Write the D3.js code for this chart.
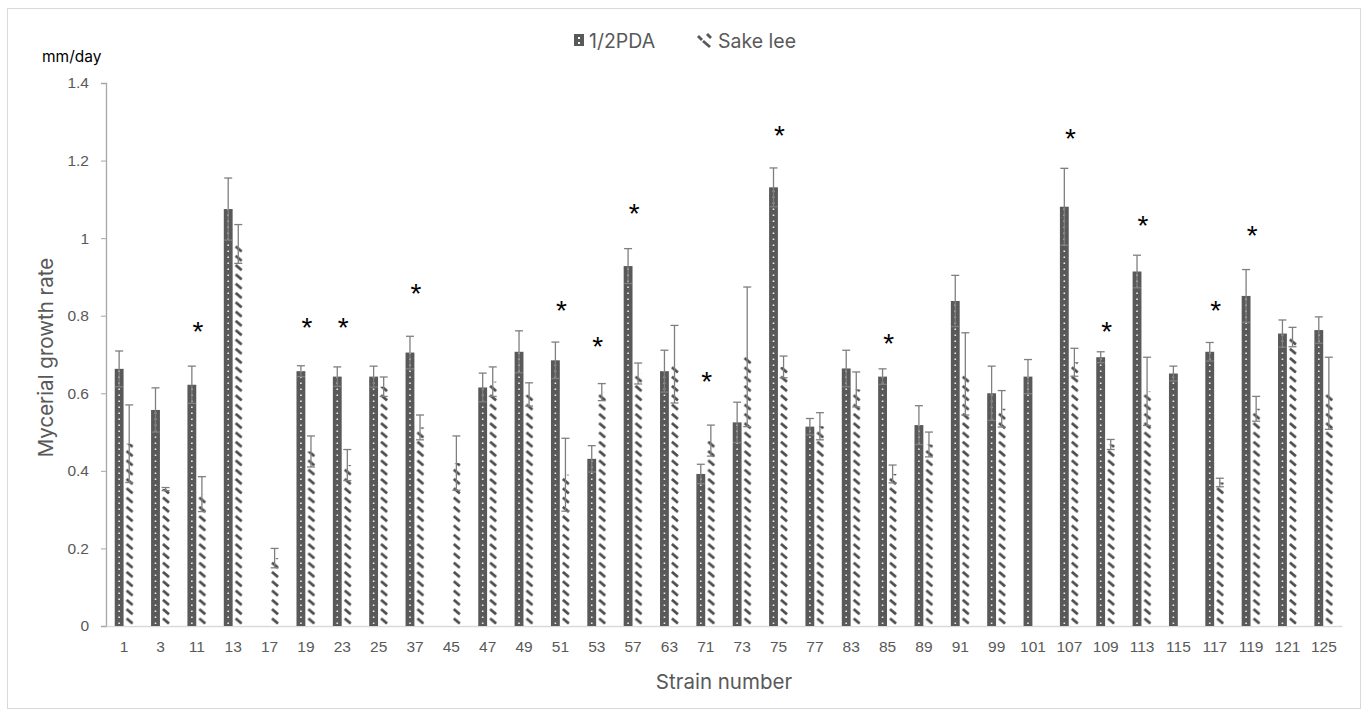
<!DOCTYPE html>
<html>
<head>
<meta charset="utf-8">
<script src="https://cdn.jsdelivr.net/npm/d3@7"></script>
<style>
  body { margin: 0; background: #fff; }
  svg { font-family: Inter, "Noto Sans", sans-serif; }
</style>
</head>
<body>
<svg id="chart"></svg>
<script>
// Data
const strains = ["1","3","11","13","17","19","23","25","37","45","47","49","51","53","57","63","71","73","75","77","83","85","89","91","99","101","107","109","113","115","117","119","121","125"];
const pda = [0.663,0.557,0.622,1.075,0,0.657,0.643,0.643,0.705,0,0.615,0.707,0.685,0.431,0.928,0.657,0.392,0.525,1.131,0.514,0.664,0.643,0.518,0.838,0.6,0.643,1.081,0.693,0.914,0.651,0.707,0.851,0.754,0.763];
const pdaErr = [0.046,0.057,0.048,0.08,0,0.014,0.025,0.027,0.042,0,0.037,0.054,0.047,0.034,0.045,0.054,0.025,0.052,0.05,0.021,0.047,0.02,0.05,0.066,0.07,0.044,0.099,0.014,0.042,0.019,0.024,0.068,0.035,0.034];
const sake = [0.47,0.353,0.34,0.985,0.175,0.45,0.415,0.617,0.512,0.42,0.63,0.597,0.39,0.603,0.651,0.675,0.478,0.694,0.668,0.515,0.61,0.392,0.468,0.65,0.56,0,0.68,0.468,0.605,0,0.37,0.56,0.745,0.6];
const sakeErr = [0.1,0.004,0.045,0.05,0.025,0.04,0.04,0.025,0.032,0.07,0.038,0.03,0.094,0.022,0.027,0.1,0.04,0.18,0.028,0.035,0.045,0.023,0.032,0.106,0.047,0,0.036,0.013,0.088,0,0.011,0.032,0.025,0.093];
const starStrains = ["11","19","23","37","51","53","57","71","75","85","107","109","113","117","119"];
const starY = [0.776,0.787,0.787,0.875,0.83,0.737,1.081,0.647,1.283,0.746,1.274,0.776,1.051,0.83,1.024];
const yTicks = [0, 0.2, 0.4, 0.6, 0.8, 1, 1.2, 1.4];
const seriesNames = ["1/2PDA", "Sake lee"];

const width = 1369, height = 718;
const margins = {top: 83, right: 27, bottom: 92, left: 106};
const grey = "#595959";

const svg = d3.select("#chart")
	.attr("width", width)
	.attr("height", height);

// outer frame
svg.append("rect")
	.attr("x", 7.5).attr("y", 8.5)
	.attr("width", 1353).attr("height", 700)
	.attr("fill", "none")
	.attr("stroke", "#d9d9d9");

const x0 = d3.scaleBand()
	.domain(strains)
	.range([margins.left, width - margins.right])
	.paddingInner(0.48)
	.paddingOuter(0.24);

const x1 = d3.scaleBand()
	.domain(seriesNames)
	.range([0, x0.bandwidth()])
	.paddingInner(0.12);

const y = d3.scaleLinear()
	.domain([0, 1.4])
	.range([height - margins.bottom, margins.top]);

// Hatch pattern, in the local coordinates of each strain group
const defs = svg.append("defs");
const hatch = defs.append("pattern")
	.attr("id", "hatch")
	.attr("patternUnits", "userSpaceOnUse")
	.attr("x", x1("Sake lee"))
	.attr("y", y(0))
	.attr("width", x0.step())
	.attr("height", 9.3);
hatch.append("rect").attr("width", x0.step()).attr("height", 9.3).attr("fill", "#fff");
hatch.append("line")
	.attr("x1", 1.8).attr("y1", 1.8)
	.attr("x2", x1.bandwidth() - 1).attr("y2", 6.8)
	.attr("stroke", "#4d4d4d")
	.attr("stroke-width", 2.8)
	.attr("stroke-linecap", "butt");

// y axis
svg.append("g")
	.attr("transform", `translate(${margins.left}, 0)`)
	.call(d3.axisLeft(y).tickValues(yTicks).tickSize(5).tickPadding(12)
		.tickFormat(d => d === 0 ? "0" : d3.format("")(d)))
	.call(g => g.select(".domain").attr("stroke", "#a6a6a6").attr("stroke-width", 1.3))
	.call(g => g.selectAll(".tick line").attr("stroke", "#a6a6a6"))
	.call(g => g.selectAll("text").attr("fill", grey).attr("font-size", 15.5));

// x axis
svg.append("g")
	.attr("transform", `translate(0, ${y(0)})`)
	.call(d3.axisBottom(x0).tickSize(0).tickPadding(15))
	.call(g => g.select(".domain").attr("stroke", "#d9d9d9").attr("stroke-width", 1.3))
	.call(g => g.selectAll("text").attr("fill", grey).attr("font-size", 15.5));

const groups = svg.append("g")
	.selectAll("g")
	.data(strains)
	.join("g")
	.attr("transform", d => `translate(${x0(d)}, 0)`);

// 1/2PDA bars
groups.append("rect")
	.attr("x", x1("1/2PDA"))
	.attr("y", (d, i) => y(pda[i]))
	.attr("width", x1.bandwidth())
	.attr("height", (d, i) => y(0) - y(pda[i]))
	.attr("fill", grey);

groups.append("line")
	.attr("x1", x1("1/2PDA") + x1.bandwidth() / 2)
	.attr("x2", x1("1/2PDA") + x1.bandwidth() / 2)
	.attr("y1", y(0) - 2)
	.attr("y2", (d, i) => y(pda[i]))
	.attr("stroke", "#fff")
	.attr("stroke-width", 1.6)
	.attr("stroke-dasharray", "1.6,4.4")
	.attr("opacity", (d, i) => pda[i] > 0 ? 0.9 : 0);

// Sake lee bars
groups.append("rect")
	.attr("x", x1("Sake lee"))
	.attr("y", (d, i) => y(sake[i]))
	.attr("width", x1.bandwidth())
	.attr("height", (d, i) => y(0) - y(sake[i]))
	.attr("fill", "url(#hatch)");

// error bars
const errorBar = (sel, key, vals, errs) => {
	const cx = x1(key) + x1.bandwidth() / 2;
	const e = sel.filter((d, i) => errs[i] > 0).append("g")
		.attr("stroke", "#7f7f7f")
		.attr("stroke-width", 1.3);
	e.append("line")
		.attr("x1", cx).attr("x2", cx)
		.attr("y1", d => y(vals[strains.indexOf(d)] - errs[strains.indexOf(d)]))
		.attr("y2", d => y(vals[strains.indexOf(d)] + errs[strains.indexOf(d)]));
	[1, -1].forEach(s => {
		e.append("line")
			.attr("x1", cx - 4).attr("x2", cx + 4)
			.attr("y1", d => y(vals[strains.indexOf(d)] + s * errs[strains.indexOf(d)]))
			.attr("y2", d => y(vals[strains.indexOf(d)] + s * errs[strains.indexOf(d)]));
	});
};
errorBar(groups, "1/2PDA", pda, pdaErr);
errorBar(groups, "Sake lee", sake, sakeErr);

// significance stars
const starSize = 28;
svg.append("g")
	.selectAll("text")
	.data(starStrains)
	.join("text")
	.attr("x", d => x0(d) + x0.bandwidth() / 2 + 1)
	.attr("y", (d, i) => y(starY[i]) + starSize * 0.58)
	.attr("text-anchor", "middle")
	.attr("font-size", starSize)
	.attr("font-family", "'Liberation Sans', Arial, sans-serif")
	.attr("fill", "#000")
	.text("*");

// axis titles
svg.append("text")
	.attr("transform", `translate(53, ${(y(0) + y(1.4)) / 2 + 3}) rotate(-90)`)
	.attr("text-anchor", "middle")
	.attr("font-size", 20.5)
	.attr("fill", grey)
	.text("Mycerial growth rate");

svg.append("text")
	.attr("x", (margins.left + width - margins.right) / 2)
	.attr("y", 689)
	.attr("text-anchor", "middle")
	.attr("font-size", 20.5)
	.attr("fill", grey)
	.text("Strain number");

svg.append("text")
	.attr("x", 42)
	.attr("y", 62)
	.attr("font-size", 15.5)
	.attr("fill", "#000")
	.text("mm/day");

// legend
const legend = svg.append("g");
legend.append("rect")
	.attr("x", 574).attr("y", 34).attr("width", 10).attr("height", 12)
	.attr("fill", grey);
legend.append("rect")
	.attr("x", 578).attr("y", 37).attr("width", 2).attr("height", 2)
	.attr("fill", "#fff");
legend.append("rect")
	.attr("x", 578).attr("y", 42).attr("width", 2).attr("height", 2)
	.attr("fill", "#fff");
legend.append("text")
	.attr("x", 589).attr("y", 48)
	.attr("font-size", 19.5)
	.attr("fill", grey)
	.text(seriesNames[0]);
// sake lee legend swatch: three diagonal dashes
legend.append("g")
	.attr("stroke", grey)
	.attr("stroke-width", 2.8)
	.selectAll("line")
	.data([[698, 36, 702, 40], [703, 41, 710, 47], [707, 34, 711, 38]])
	.join("line")
	.attr("x1", d => d[0]).attr("y1", d => d[1])
	.attr("x2", d => d[2]).attr("y2", d => d[3]);
legend.append("text")
	.attr("x", 718).attr("y", 48)
	.attr("font-size", 19.5)
	.attr("fill", grey)
	.text(seriesNames[1]);
</script>
</body>
</html>
